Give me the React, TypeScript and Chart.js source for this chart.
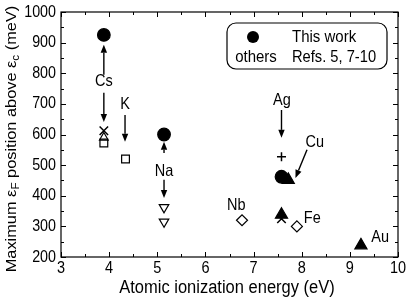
import React, { useEffect, useRef } from "react";
import { Chart, registerables } from "chart.js";

Chart.register(...registerables);

// ---- data (atomic ionization energy in eV, Fermi level position in meV) ----
const thisWorkX = [3.89, 5.14, 7.58];
const thisWorkY = [925, 600, 462];

const squareX = [3.89, 4.34];
const squareY = [572, 520];

const triUpOpenX = [3.89];
const triUpOpenY = [590];

const crossX = [3.89, 7.58];
const crossY = [612, 325];

const triDownX = [5.14, 5.14];
const triDownY = [362, 315];

const diamondX = [6.76, 7.9];
const diamondY = [320, 300];

const plusX = [7.58];
const plusY = [527];

const triFilledX = [7.58, 7.72, 9.23];
const triFilledY = [338, 452, 238];

const xTicks = [3, 4, 5, 6, 7, 8, 9, 10];
const yTicks = [200, 300, 400, 500, 600, 700, 800, 900, 1000];

const elementLabels = ["Cs", "K", "Na", "Ag", "Cu", "Nb", "Fe", "Au"];
const elementLabelX = [3.89, 4.33, 5.14, 7.59, 8.27, 6.64, 8.22, 9.63];
const elementLabelY = [772, 697, 478, 710, 573, 370, 327, 265];

// arrows: tail (x1,y1) -> head (x2,y2), in data units
const arrowX1 = [3.89, 3.89, 4.33, 5.14, 5.14, 7.58, 8.11];
const arrowY1 = [795, 736, 664, 540, 452, 680, 550];
const arrowX2 = [3.89, 3.89, 4.33, 5.14, 5.14, 7.58, 7.87];
const arrowY2 = [893, 641, 576, 576, 393, 589, 458];

const FONT = "'Liberation Sans', Arial, Helvetica, sans-serif";
const STRETCH = 1.15;

const toPts = (xs: number[], ys: number[]) => xs.map((x, i) => ({ x, y: ys[i] }));

const text = (
  ctx: CanvasRenderingContext2D,
  t: string,
  x: number,
  y: number,
  size: number,
  align: CanvasTextAlign,
  baseline: CanvasTextBaseline
) => {
  ctx.save();
  ctx.translate(x, y);
  ctx.scale(1, STRETCH);
  ctx.font = `${size}px ${FONT}`;
  ctx.textAlign = align;
  ctx.textBaseline = baseline;
  ctx.fillText(t, 0, 0);
  ctx.restore();
};

const overlayPlugin = {
  id: "overlay",
  afterDraw(chart: any) {
    const { ctx, chartArea: a, scales } = chart;
    const xs = scales.x;
    const ys = scales.y;
    ctx.save();
    ctx.strokeStyle = "#000";
    ctx.fillStyle = "#000";
    ctx.lineWidth = 1.2;
    ctx.strokeRect(a.left, a.top, a.right - a.left, a.bottom - a.top);

    const seg = (x1: number, y1: number, x2: number, y2: number) => {
      ctx.beginPath();
      ctx.moveTo(x1, y1);
      ctx.lineTo(x2, y2);
      ctx.stroke();
    };
    ctx.lineWidth = 1;
    for (let v = 3; v <= 10.001; v += 0.5) {
      const px = Math.round(xs.getPixelForValue(v)) + 0.5;
      const len = Math.abs(v - Math.round(v)) < 1e-6 ? 5 : 3;
      seg(px, a.bottom, px, a.bottom - len);
      seg(px, a.top, px, a.top + len);
    }
    for (let v = 200; v <= 1000; v += 50) {
      const py = Math.round(ys.getPixelForValue(v)) + 0.5;
      const len = v % 100 === 0 ? 5 : 3;
      seg(a.left, py, a.left + len, py);
      seg(a.right, py, a.right - len, py);
    }

    // tick labels
    xTicks.forEach((v) => text(ctx, String(v), xs.getPixelForValue(v), a.bottom + 16, 14.5, "center", "alphabetic"));
    yTicks.forEach((v) => text(ctx, String(v), a.left - 5, ys.getPixelForValue(v), 14.3, "right", "middle"));

    // element labels
    elementLabels.forEach((t, i) => {
      text(ctx, t, xs.getPixelForValue(elementLabelX[i]), ys.getPixelForValue(elementLabelY[i]), 14.5, "center", "middle");
    });

    // arrows
    ctx.lineWidth = 1.4;
    arrowX1.forEach((_, i) => {
      const x1 = xs.getPixelForValue(arrowX1[i]);
      const y1 = ys.getPixelForValue(arrowY1[i]);
      const x2 = xs.getPixelForValue(arrowX2[i]);
      const y2 = ys.getPixelForValue(arrowY2[i]);
      const ang = Math.atan2(y2 - y1, x2 - x1);
      const hl = 8;
      const hw = 3.2;
      const bx = x2 - hl * Math.cos(ang);
      const by = y2 - hl * Math.sin(ang);
      seg(x1, y1, bx, by);
      ctx.beginPath();
      ctx.moveTo(x2, y2);
      ctx.lineTo(bx + hw * Math.sin(ang), by - hw * Math.cos(ang));
      ctx.lineTo(bx - hw * Math.sin(ang), by + hw * Math.cos(ang));
      ctx.closePath();
      ctx.fill();
    });

    // legend box
    const lx = 227, ly = 23, lw = 160, lh = 46, r = 9;
    ctx.lineWidth = 1.2;
    ctx.beginPath();
    ctx.moveTo(lx + r, ly);
    ctx.arcTo(lx + lw, ly, lx + lw, ly + lh, r);
    ctx.arcTo(lx + lw, ly + lh, lx, ly + lh, r);
    ctx.arcTo(lx, ly + lh, lx, ly, r);
    ctx.arcTo(lx, ly, lx + lw, ly, r);
    ctx.closePath();
    ctx.stroke();
    ctx.beginPath();
    ctx.arc(253, 37, 6, 0, Math.PI * 2);
    ctx.fill();
    text(ctx, "This work", 292, 37, 15, "left", "middle");
    text(ctx, "Refs. 5, 7-10", 292, 57, 14.7, "left", "middle");
    text(ctx, "others", 256, 57, 15, "center", "middle");

    // x axis title
    ctx.save();
    ctx.translate(227, 293);
    ctx.scale(1, 1.1);
    ctx.font = `16.5px ${FONT}`;
    ctx.textAlign = "center";
    ctx.textBaseline = "alphabetic";
    ctx.fillText("Atomic ionization energy (eV)", 0, 0);
    ctx.restore();

    // y axis title with subscripts
    const parts: [string, boolean][] = [
      ["Maximum ε", false],
      ["F", true],
      [" position above ε", false],
      ["c", true],
      [" (meV)", false],
    ];
    const big = `14.6px ${FONT}`;
    const small = `10.5px ${FONT}`;
    let total = 0;
    parts.forEach(([t, sub]) => {
      ctx.font = sub ? small : big;
      total += ctx.measureText(t).width;
    });
    ctx.save();
    ctx.translate(12, 139);
    ctx.rotate(-Math.PI / 2);
    ctx.scale(1.12, 1);
    ctx.textAlign = "left";
    ctx.textBaseline = "middle";
    let cx = -total / 2;
    parts.forEach(([t, sub]) => {
      ctx.font = sub ? small : big;
      ctx.fillText(t, cx, sub ? 4 : 0);
      cx += ctx.measureText(t).width;
    });
    ctx.restore();
    ctx.restore();
  },
};

export default function App() {
  const ref = useRef<HTMLCanvasElement | null>(null);
  useEffect(() => {
    if (!ref.current) return;
    const open = "rgba(0,0,0,0)";
    const base = { showLine: false, borderColor: "#000", borderWidth: 1.2 };
    const chart = new Chart(ref.current, {
      type: "scatter",
      data: {
        datasets: [
          { ...base, label: "This work", data: toPts(thisWorkX, thisWorkY), pointStyle: "circle", pointRadius: 6.3, backgroundColor: "#000" },
          { ...base, label: "filled triangle", data: toPts(triFilledX, triFilledY), pointStyle: "triangle", pointRadius: 7, backgroundColor: "#000" },
          { ...base, label: "plus", data: toPts(plusX, plusY), pointStyle: "cross", pointRadius: 4.5, backgroundColor: "#000", borderWidth: 1.5 },
          { ...base, label: "cross", data: toPts(crossX, crossY), pointStyle: "crossRot", pointRadius: 6, backgroundColor: "#000", borderWidth: 1.5 },
          { ...base, label: "open triangle", data: toPts(triUpOpenX, triUpOpenY), pointStyle: "triangle", pointRadius: 5, backgroundColor: open },
          { ...base, label: "square", data: toPts(squareX, squareY), pointStyle: "rect", pointRadius: 5.5, backgroundColor: open },
          { ...base, label: "down triangle", data: toPts(triDownX, triDownY), pointStyle: "triangle", rotation: 180, pointRadius: 5.5, backgroundColor: open },
          { ...base, label: "diamond", data: toPts(diamondX, diamondY), pointStyle: "rectRot", pointRadius: 5.5, backgroundColor: open },
        ] as any,
      },
      options: {
        responsive: false,
        animation: false,
        layout: { padding: { top: 12, right: 10, left: 0, bottom: 0 } },
        plugins: { legend: { display: false }, tooltip: { enabled: false } },
        scales: {
          x: {
            type: "linear",
            min: 3,
            max: 10,
            afterFit: (s: any) => { s.height = 42; },
            grid: { display: false, drawTicks: false },
            border: { display: false },
            ticks: { display: false },
          },
          y: {
            type: "linear",
            min: 200,
            max: 1000,
            afterFit: (s: any) => { s.width = 61; },
            grid: { display: false, drawTicks: false },
            border: { display: false },
            ticks: { display: false },
          },
        },
      } as any,
      plugins: [overlayPlugin],
    });
    return () => chart.destroy();
  }, []);
  return (
    <div style={{ position: "absolute", left: 0, top: 0, width: 408, height: 299, background: "#fff" }}>
      <canvas ref={ref} width={408} height={299} style={{ display: "block" }} />
    </div>
  );
}
